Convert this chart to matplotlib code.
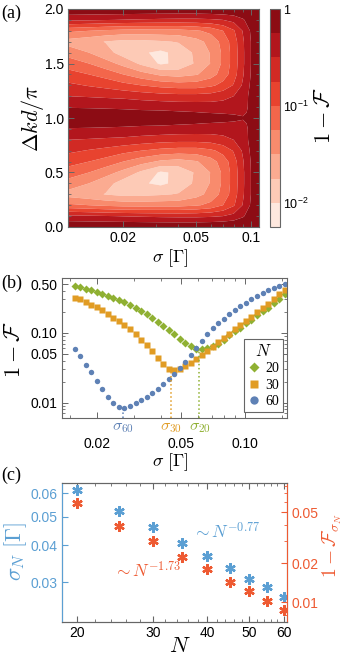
import numpy as np
import matplotlib
matplotlib.use('Agg')
import matplotlib.pyplot as plt
import matplotlib.ticker as mticker
import matplotlib.transforms as mtransforms
from matplotlib.lines import Line2D

plt.rcParams['font.family'] = ['Liberation Sans', 'DejaVu Sans']
plt.rcParams['mathtext.fontset'] = 'cm'

# ---------------- Panel (a): log10(1-F) map (lower half, mirrored about dk=1) ----
sigma_a = [0.010, 0.013, 0.016, 0.020, 0.025, 0.032, 0.040, 0.050,
           0.060, 0.070, 0.080, 0.090, 0.100, 0.112]
dk_half = [0.0, 0.1, 0.2, 0.3, 0.4, 0.5, 0.6, 0.7, 0.8, 0.9, 0.95, 1.0]
# one list per sigma column, values of log10(1-F) for dk_half
col_s010 = [-0.02, -0.45, -1.20, -1.60, -1.35, -1.12, -0.90, -0.70, -0.50, -0.27, -0.12, -0.02]
col_s013 = [-0.02, -0.47, -1.25, -1.68, -1.50, -1.25, -1.00, -0.77, -0.52, -0.28, -0.13, -0.02]
col_s016 = [-0.02, -0.49, -1.30, -1.76, -1.66, -1.40, -1.10, -0.83, -0.54, -0.29, -0.15, -0.02]
col_s020 = [-0.02, -0.51, -1.34, -1.82, -1.86, -1.58, -1.25, -0.92, -0.56, -0.30, -0.17, -0.02]
col_s025 = [-0.02, -0.53, -1.35, -1.82, -1.97, -1.80, -1.40, -1.00, -0.60, -0.32, -0.19, -0.02]
col_s032 = [-0.02, -0.55, -1.34, -1.78, -2.05, -2.04, -1.55, -1.08, -0.64, -0.33, -0.20, -0.02]
col_s040 = [-0.02, -0.56, -1.34, -1.73, -1.92, -1.94, -1.60, -1.12, -0.66, -0.35, -0.22, -0.03]
col_s050 = [-0.02, -0.56, -1.28, -1.59, -1.69, -1.71, -1.52, -1.12, -0.66, -0.36, -0.24, -0.03]
col_s060 = [-0.01, -0.54, -1.18, -1.41, -1.48, -1.49, -1.36, -1.05, -0.64, -0.37, -0.27, -0.04]
col_s070 = [0.00, -0.50, -1.00, -1.16, -1.20, -1.20, -1.13, -0.92, -0.58, -0.38, -0.30, -0.06]
col_s080 = [0.00, -0.42, -0.78, -0.87, -0.89, -0.89, -0.86, -0.73, -0.50, -0.38, -0.32, -0.12]
col_s090 = [0.00, -0.28, -0.48, -0.53, -0.54, -0.54, -0.52, -0.46, -0.38, -0.36, -0.33, -0.21]
col_s100 = [0.00, -0.09, -0.20, -0.23, -0.23, -0.23, -0.22, -0.19, -0.16, -0.16, -0.14, -0.10]
col_s112 = [0.00, -0.01, -0.02, -0.02, -0.02, -0.02, -0.02, -0.02, -0.01, 0.00, 0.00, 0.00]
columns_a = [col_s010, col_s013, col_s016, col_s020, col_s025, col_s032, col_s040,
             col_s050, col_s060, col_s070, col_s080, col_s090, col_s100, col_s112]
levels_a = [-2.25, -2.0, -1.75, -1.5, -1.25, -1.0, -0.75, -0.5, -0.25, 0.0]
colors_a = ['#fee8de', '#fdcab6', '#fbab91', '#f88b6d', '#f3664b',
            '#e8432f', '#d12a24', '#b2161d', '#8c0c14']

# ---------------- Panel (b) ----------------
sigma_b = [0.01575, 0.01672, 0.01776, 0.01886, 0.02002, 0.02126, 0.02257, 0.02397,
           0.02545, 0.02702, 0.02869, 0.03047, 0.03235, 0.03435, 0.03648, 0.03873,
           0.04112, 0.04367, 0.04637, 0.04923, 0.05228, 0.05551, 0.05894, 0.06259,
           0.06646, 0.07056, 0.07493, 0.07956, 0.08448, 0.08970, 0.09524, 0.1011,
           0.1074, 0.1140, 0.1211, 0.1285, 0.1365, 0.1449, 0.1539]
infid_N20 = [0.472, 0.452, 0.427, 0.404, 0.385, 0.365, 0.341, 0.318, 0.294, 0.272,
             0.248, 0.227, 0.205, 0.183, 0.162, 0.143, 0.126, 0.110, 0.095, 0.082,
             0.072, 0.064, 0.0595, 0.0590, 0.0605, 0.064, 0.070, 0.080, 0.0915, 0.1045,
             0.119, 0.136, 0.155, 0.177, 0.202, 0.230, 0.268, 0.310, 0.355]
infid_N30 = [0.318, 0.301, 0.278, 0.254, 0.232, 0.209, 0.185, 0.165, 0.148, 0.129,
             0.113, 0.096, 0.080, 0.066, 0.054, 0.044, 0.036, 0.0305, 0.0290, 0.0300,
             0.033, 0.037, 0.042, 0.048, 0.055, 0.063, 0.073, 0.084, 0.097, 0.112,
             0.129, 0.149, 0.171, 0.197, 0.228, 0.262, 0.310, 0.360, 0.410]
infid_N60 = [0.059, 0.046, 0.035, 0.027, 0.0205, 0.0155, 0.0122, 0.0100, 0.0087, 0.0084,
             0.0088, 0.0097, 0.0107, 0.0120, 0.0135, 0.0155, 0.0182, 0.0215, 0.0255, 0.031,
             0.038, 0.048, 0.060, 0.076, 0.095, 0.117, 0.137, 0.158, 0.183, 0.21,
             0.24, 0.27, 0.305, 0.34, 0.375, 0.41, 0.44, 0.47, 0.50]
N_labels_b = ['20', '30', '60']
sigma_opt_b = [0.061, 0.0447, 0.0265]
infid_opt_b = [0.059, 0.029, 0.0083]

# ---------------- Panel (c) ----------------
N_c = [20, 25, 30, 35, 40, 45, 50, 55, 60]
sigma_N = [0.0617, 0.0522, 0.0462, 0.0406, 0.0368, 0.0334, 0.0307, 0.0288, 0.0268]
infid_sigmaN = [0.059, 0.039, 0.0298, 0.0223, 0.0181, 0.0144, 0.0121, 0.0102, 0.0087]
fit_labels_c = [r'$\sim N^{-0.77}$', r'$\sim N^{-1.73}$']

# colours
GREEN = '#8fb032'
ORANGE = '#e19c24'
BLUE = '#5e81b5'
CBLUE = '#5b9fd3'
CRED = '#ee5a32'
FRAME = '#666666'

W, H = 345, 658
fig = plt.figure(figsize=(W / 100, H / 100), dpi=100)


def rect(l, t, r, b):
    return [l / W, 1 - b / H, (r - l) / W, (b - t) / H]


def style_axes(ax):
    for s in ax.spines.values():
        s.set_color(FRAME)
        s.set_linewidth(0.8)
    ax.tick_params(which='both', direction='in', top=True, right=True,
                   color=FRAME, labelsize=9.5)
    ax.tick_params(which='major', length=4, width=0.7)
    ax.tick_params(which='minor', length=2, width=0.6)


serif = ['Liberation Serif', 'DejaVu Serif']

# ---------------- (a) ----------------
axa = fig.add_axes(rect(68, 9, 259, 227))
Z_half = np.array(columns_a).T
Z = np.vstack([Z_half, Z_half[-2::-1]])
dk_full = list(dk_half) + [2.0 - d for d in dk_half[-2::-1]]
cs = axa.contourf(sigma_a, dk_full, Z, levels=levels_a, colors=colors_a, antialiased=True)
axa.set_xscale('log')
axa.set_xlim(0.01, 0.11)
axa.set_ylim(0, 2)
axa.xaxis.set_major_locator(mticker.FixedLocator([0.02, 0.05, 0.1]))
axa.xaxis.set_major_formatter(mticker.FixedFormatter(['0.02', '0.05', '0.1']))
axa.xaxis.set_minor_locator(mticker.FixedLocator([0.03, 0.04, 0.06, 0.07, 0.08, 0.09]))
axa.xaxis.set_minor_formatter(mticker.NullFormatter())
axa.yaxis.set_major_locator(mticker.FixedLocator([0, 0.5, 1.0, 1.5, 2.0]))
axa.yaxis.set_major_formatter(mticker.FixedFormatter(['0.0', '0.5', '1.0', '1.5', '2.0']))
axa.yaxis.set_minor_locator(mticker.MultipleLocator(0.1))
style_axes(axa)
axa.tick_params(axis='both', which='major', pad=3, labelsize=10)
fig.text(170 / W, 1 - 258 / H, r'$\sigma\ [\Gamma]$', ha='center', va='center', fontsize=13)
fig.text(33 / W, 1 - 118 / H, r'$\Delta k d/\pi$', ha='center', va='center',
         rotation=90, fontsize=16)
fig.text(1 / W, 1 - 13 / H, '(a)', ha='left', va='center', fontsize=13, family=serif)

cax = fig.add_axes(rect(270, 9, 280, 227))
cb = fig.colorbar(cs, cax=cax, ticks=[-2, -1, 0])
cb.ax.set_yticklabels([r'$\mathregular{10^{-2}}$', r'$\mathregular{10^{-1}}$', '1'])
cb.ax.tick_params(length=0, labelsize=9, pad=2)
cb.outline.set_edgecolor(FRAME)
cb.outline.set_linewidth(0.8)
fig.text(325 / W, 1 - 116 / H, r'$1-\mathcal{F}$', ha='center', va='center',
         rotation=90, fontsize=16)

# ---------------- (b) ----------------
axb = fig.add_axes(rect(62, 278, 287, 418))
axb.plot(sigma_b, infid_N20, 'D', color=GREEN, ms=3.6, mec='none')
axb.plot(sigma_b, infid_N30, 's', color=ORANGE, ms=3.8, mec='none')
axb.plot(sigma_b, infid_N60, 'o', color=BLUE, ms=3.9, mec='none')
axb.set_xscale('log')
axb.set_yscale('log')
axb.set_xlim(0.0137, 0.158)
axb.set_ylim(0.006, 0.61)
for s_opt, f_opt, col, lab in zip(sigma_opt_b, infid_opt_b, [GREEN, ORANGE, BLUE], N_labels_b):
    axb.plot([s_opt, s_opt], [0.006, f_opt], ls=':', color=col, lw=1.1)
    axb.text(s_opt, -0.015, r'$\sigma_{%s}$' % lab, color=col, fontsize=11.5,
             ha='center', va='top',
             transform=mtransforms.blended_transform_factory(axb.transData, axb.transAxes))
axb.xaxis.set_major_locator(mticker.FixedLocator([0.02, 0.05, 0.10]))
axb.xaxis.set_major_formatter(mticker.FixedFormatter(['0.02', '0.05', '0.10']))
axb.xaxis.set_minor_locator(mticker.FixedLocator([0.015, 0.03, 0.04, 0.06, 0.07, 0.08, 0.09, 0.15]))
axb.xaxis.set_minor_formatter(mticker.NullFormatter())
axb.yaxis.set_major_locator(mticker.FixedLocator([0.01, 0.05, 0.10, 0.50]))
axb.yaxis.set_major_formatter(mticker.FixedFormatter(['0.01', '0.05', '0.10', '0.50']))
axb.yaxis.set_minor_locator(mticker.FixedLocator([0.007, 0.008, 0.009, 0.02, 0.03, 0.04,
                                                 0.06, 0.07, 0.08, 0.09, 0.2, 0.3, 0.4]))
axb.yaxis.set_minor_formatter(mticker.NullFormatter())
style_axes(axb)
axb.tick_params(axis='x', which='major', pad=14, labelsize=10)
axb.tick_params(axis='y', which='major', pad=3, labelsize=10)
handles = [Line2D([], [], marker='D', ls='none', color=GREEN, ms=5.5, mec='none'),
           Line2D([], [], marker='s', ls='none', color=ORANGE, ms=6, mec='none'),
           Line2D([], [], marker='o', ls='none', color=BLUE, ms=6, mec='none')]
leg = axb.legend(handles, N_labels_b, title=r'$N$', loc='lower right',
                 bbox_to_anchor=(0.995, 0.02), frameon=True, fancybox=False,
                 edgecolor=FRAME, framealpha=1, prop={'family': serif, 'size': 10},
                 handlelength=0.8, handletextpad=0.4, borderpad=0.3, labelspacing=0.25,
                 borderaxespad=0.2)
leg.get_title().set_fontsize(12)
leg.get_frame().set_linewidth(0.8)
fig.text(170 / W, 1 - 462 / H, r'$\sigma\ [\Gamma]$', ha='center', va='center', fontsize=13)
fig.text(15 / W, 1 - 350 / H, r'$1-\mathcal{F}$', ha='center', va='center',
         rotation=90, fontsize=16)
fig.text(1 / W, 1 - 283 / H, '(b)', ha='left', va='center', fontsize=13, family=serif)

# ---------------- (c) ----------------
axc = fig.add_axes(rect(62, 483, 287, 622))
axc2 = axc.twinx()
axc.plot(N_c, sigma_N, ls='none', marker=(6, 2, 0), ms=7.5, mew=1.7, color=CBLUE)
axc2.plot(N_c, infid_sigmaN, ls='none', marker=(6, 2, 0), ms=7.5, mew=1.7, color=CRED)
for a in (axc, axc2):
    a.set_xscale('log')
    a.set_yscale('log')
axc.set_xlim(18.5, 61)
axc.set_ylim(0.022, 0.065)
axc2.set_ylim(0.007, 0.084)
axc.xaxis.set_major_locator(mticker.FixedLocator([20, 30, 40, 50, 60]))
axc.xaxis.set_major_formatter(mticker.FixedFormatter(['20', '30', '40', '50', '60']))
axc.xaxis.set_minor_locator(mticker.FixedLocator([22, 24, 26, 28, 32, 34, 36, 38, 42,
                                                 44, 46, 48, 52, 54, 56, 58]))
axc.xaxis.set_minor_formatter(mticker.NullFormatter())
axc.yaxis.set_major_locator(mticker.FixedLocator([0.03, 0.04, 0.05, 0.06]))
axc.yaxis.set_major_formatter(mticker.FixedFormatter(['0.03', '0.04', '0.05', '0.06']))
axc.yaxis.set_minor_locator(mticker.NullLocator())
axc2.yaxis.set_major_locator(mticker.FixedLocator([0.01, 0.02, 0.05]))
axc2.yaxis.set_major_formatter(mticker.FixedFormatter(['0.01', '0.02', '0.05']))
axc2.yaxis.set_minor_locator(mticker.FixedLocator([0.008, 0.009, 0.03, 0.04, 0.06, 0.07, 0.08]))
axc2.yaxis.set_minor_formatter(mticker.NullFormatter())
for s in axc.spines.values():
    s.set_color(FRAME)
    s.set_linewidth(0.8)
for s in axc2.spines.values():
    s.set_linewidth(0.8)
axc2.spines['left'].set_color(CBLUE)
axc2.spines['right'].set_color(CRED)
axc2.spines['top'].set_color(FRAME)
axc2.spines['bottom'].set_color(FRAME)
axc.tick_params(axis='x', which='both', direction='in', top=True, color=FRAME, labelsize=10, pad=3)
axc.tick_params(axis='x', which='major', length=4)
axc.tick_params(axis='x', which='minor', length=2)
axc.tick_params(axis='y', which='both', direction='in', color=CBLUE, labelcolor=CBLUE,
                labelsize=10, length=4, pad=3)
axc2.tick_params(axis='y', which='both', direction='in', color=CRED, labelcolor=CRED,
                 labelsize=10, pad=3)
axc2.tick_params(axis='y', which='major', length=4)
axc2.tick_params(axis='y', which='minor', length=2)
fig.text(226 / W, 1 - 531 / H, fit_labels_c[0], color=CBLUE, fontsize=12.5,
         ha='center', va='center')
fig.text(147 / W, 1 - 570 / H, fit_labels_c[1], color=CRED, fontsize=12.5,
         ha='center', va='center')
fig.text(180 / W, 1 - 647 / H, r'$N$', ha='center', va='center', fontsize=16)
fig.text(16 / W, 1 - 552 / H, r'$\sigma_N\ [\Gamma]$', ha='center', va='center',
         rotation=90, fontsize=16, color=CBLUE)
fig.text(332 / W, 1 - 546 / H, r'$1-\mathcal{F}_{\sigma_N}$', ha='center', va='center',
         rotation=90, fontsize=14, color=CRED)
fig.text(1 / W, 1 - 475 / H, '(c)', ha='left', va='center', fontsize=13, family=serif)

fig.savefig('out.png', dpi=100)
